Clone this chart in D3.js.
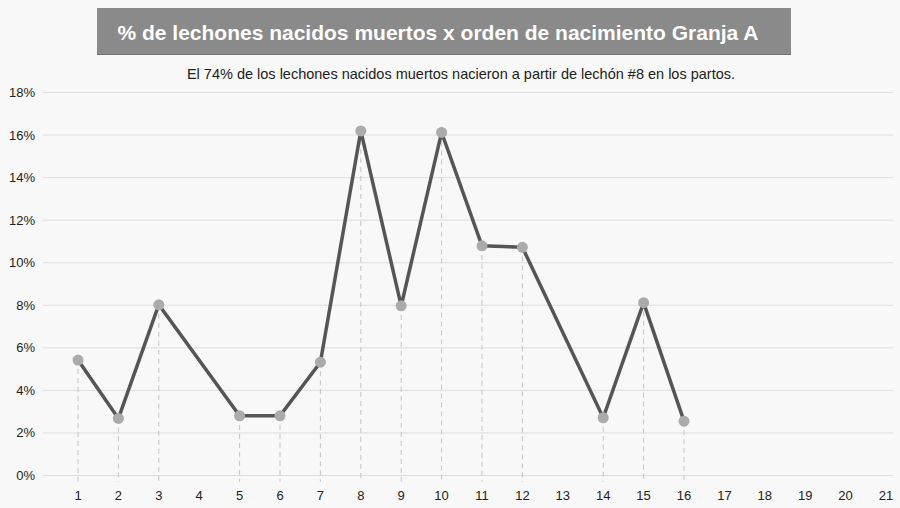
<!DOCTYPE html>
<html>
<head>
<meta charset="utf-8">
<script src="https://d3js.org/d3.v7.min.js"></script>
<style>
  body { margin: 0; background: #f8f8f8; }
  svg { display: block; font-family: "Liberation Sans", Arial, Helvetica, sans-serif; }
</style>
</head>
<body>
<script>
// data
const title = "% de lechones nacidos muertos x orden de nacimiento Granja A";
const subtitle = "El 74% de los lechones nacidos muertos nacieron a partir de lechón #8 en los partos.";
const birthOrder = [1, 2, 3, 5, 6, 7, 8, 9, 10, 11, 12, 14, 15, 16];
const pctDead = [5.4, 2.66, 8.0, 2.78, 2.78, 5.3, 16.17, 7.95, 16.1, 10.77, 10.7, 2.69, 8.1, 2.53];
const xTicks = d3.range(1, 22);
const yTicks = [0, 2, 4, 6, 8, 10, 12, 14, 16, 18];

const width = 900, height = 508;

const svg = d3.select('body').append('svg')
    .attr('width', width)
    .attr('height', height);

svg.append('rect').attr('width', width).attr('height', height).attr('fill', '#f8f8f8');

const x = d3.scaleLinear().domain([1, 21]).range([78, 886]);
const y = d3.scaleLinear().domain([0, 18]).range([475, 92]);

// title banner
svg.append('rect')
    .attr('x', 97).attr('y', 8)
    .attr('width', 694).attr('height', 47)
    .attr('fill', '#8a8a8a');
svg.append('line')
    .attr('x1', 97).attr('x2', 791)
    .attr('y1', 54.5).attr('y2', 54.5)
    .attr('stroke', '#747474').attr('stroke-width', 1);
svg.append('text')
    .attr('x', 438).attr('y', 40)
    .attr('text-anchor', 'middle')
    .attr('fill', '#fff')
    .attr('font-size', 21)
    .attr('font-weight', 'bold')
    .text(title);

svg.append('text')
    .attr('x', 461).attr('y', 79)
    .attr('text-anchor', 'middle')
    .attr('fill', '#222')
    .attr('font-size', 14.5)
    .text(subtitle);

// horizontal grid
svg.append('g')
    .selectAll('line')
    .data(yTicks)
    .join('line')
    .attr('x1', 43).attr('x2', 893)
    .attr('y1', d => y(d) + 0.5).attr('y2', d => y(d) + 0.5)
    .attr('stroke', '#dedede')
    .attr('stroke-width', 1);

// y labels
svg.append('g')
    .selectAll('text')
    .data(yTicks)
    .join('text')
    .attr('x', 35)
    .attr('y', d => y(d) + 5)
    .attr('text-anchor', 'end')
    .attr('fill', '#222')
    .attr('font-size', 13)
    .text(d => d + '%');

// x labels
svg.append('g')
    .selectAll('text')
    .data(xTicks)
    .join('text')
    .attr('x', d => x(d))
    .attr('y', 500)
    .attr('text-anchor', 'middle')
    .attr('fill', '#222')
    .attr('font-size', 13)
    .text(d => d);

const pts = birthOrder.map((b, i) => ({ b: b, v: pctDead[i] }));

// dashed drop lines
svg.append('g')
    .selectAll('line')
    .data(pts)
    .join('line')
    .attr('x1', d => x(d.b)).attr('x2', d => x(d.b))
    .attr('y1', d => y(d.v)).attr('y2', 482)
    .attr('stroke', '#c4c4c4')
    .attr('stroke-width', 1)
    .attr('stroke-dasharray', '5,4');

// line
const line = d3.line().x(d => x(d.b)).y(d => y(d.v));
svg.append('path')
    .datum(pts)
    .attr('d', line)
    .attr('fill', 'none')
    .attr('stroke', '#555')
    .attr('stroke-width', 3.5)
    .attr('stroke-linejoin', 'miter');

// points
svg.append('g')
    .selectAll('circle')
    .data(pts)
    .join('circle')
    .attr('cx', d => x(d.b))
    .attr('cy', d => y(d.v))
    .attr('r', 5.5)
    .attr('fill', '#ababab');
</script>
</body>
</html>
